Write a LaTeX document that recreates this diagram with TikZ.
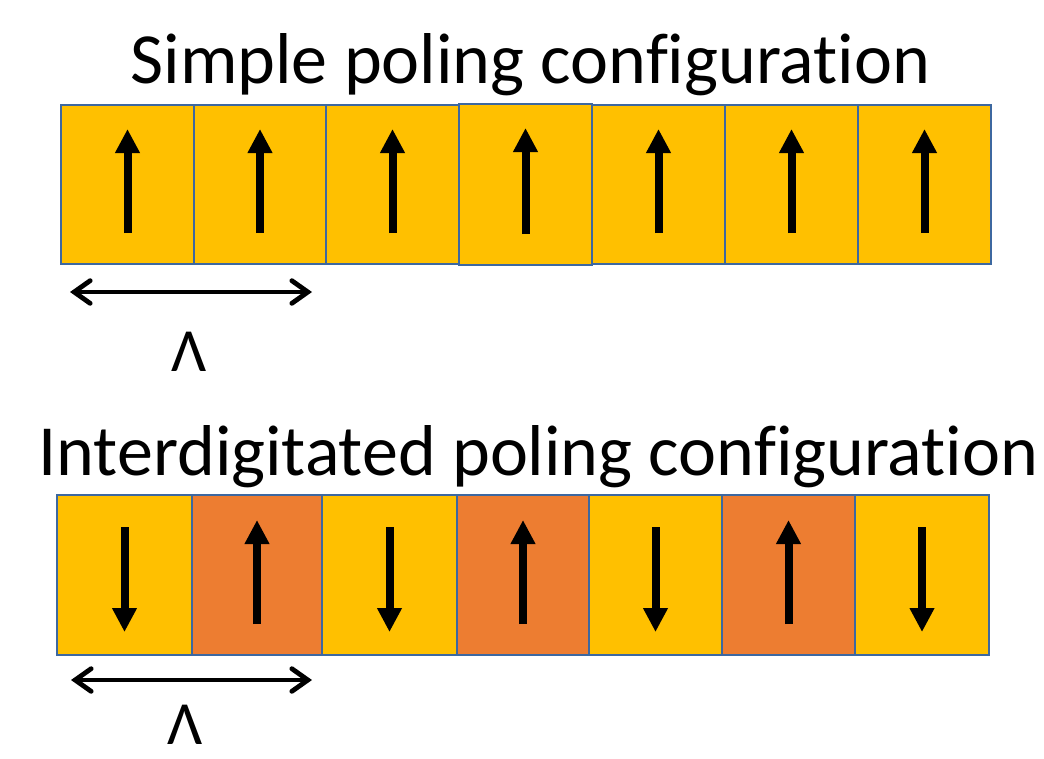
\documentclass[tikz,border=0pt]{standalone}
\usepackage{fontspec}
\setmainfont{Carlito}[Ligatures=NoCommon]
\usetikzlibrary{arrows.meta}
\definecolor{cellyellow}{HTML}{FFC000}
\definecolor{cellorange}{HTML}{ED7D31}
\definecolor{celledge}{HTML}{3D68A0}
\tikzset{
  cellbase/.style={rectangle, draw=celledge, line width=1.6pt, anchor=north west, inner sep=0pt, outer sep=0pt},
  cellY/.style={cellbase, fill=cellyellow},
  cellO/.style={cellbase, fill=cellorange},
  polarrow/.style={line width=6pt, -{Triangle[width=17.5pt,length=18pt]}},
  periodarrow/.style={line width=3.6pt, {Straight Barb[length=12pt,width=17pt,line cap=round]}-{Straight Barb[length=12pt,width=17pt,line cap=round]}, line cap=round},
  titletext/.style={anchor=base, inner sep=0pt, font=\fontsize{54}{56}\selectfont},
  lambdatext/.style={anchor=base, inner sep=0pt, font=\fontsize{46}{48}\selectfont}
}
\begin{document}
\begin{tikzpicture}[x=0.75pt, y=-0.75pt]
\useasboundingbox (0,0) rectangle (1044,758);
% titles
\node[titletext] (t1) at (530.5,83) {Simple poling configuration};
\node[titletext] (t2) at (538.5,475) {Interdigitated poling configuration};
% top row
\node[cellY, minimum width=99.75pt, minimum height=119.25pt] (a1) at (61,105) {};
\node[cellY, minimum width=99pt, minimum height=119.25pt] (a2) at (194,105) {};
\node[cellY, minimum width=99.75pt, minimum height=119.25pt] (a3) at (326,105) {};
\node[cellY, minimum width=99.75pt, minimum height=120.75pt] (a4) at (459,104) {};
\node[cellY, minimum width=99.75pt, minimum height=119.25pt] (a5) at (592,105) {};
\node[cellY, minimum width=99.75pt, minimum height=119.25pt] (a6) at (725,105) {};
\node[cellY, minimum width=99.75pt, minimum height=119.25pt] (a7) at (858,105) {};
\foreach \n in {a1,a2,a3,a4,a5,a6,a7}{
  \draw[polarrow] ([yshift=23.25pt]\n.south) -- ([yshift=-18pt]\n.north);
}
% bottom row
\node[cellY, minimum width=101.25pt, minimum height=120pt] (b1) at (57,495) {};
\node[cellO, minimum width=97.5pt, minimum height=120pt] (b2) at (192,495) {};
\node[cellY, minimum width=101.25pt, minimum height=120pt] (b3) at (322,495) {};
\node[cellO, minimum width=99pt, minimum height=120pt] (b4) at (457,495) {};
\node[cellY, minimum width=99.75pt, minimum height=120pt] (b5) at (589,495) {};
\node[cellO, minimum width=99.75pt, minimum height=120pt] (b6) at (722,495) {};
\node[cellY, minimum width=100.5pt, minimum height=120pt] (b7) at (855,495) {};
\foreach \n in {b2,b4,b6}{
  \draw[polarrow] ([yshift=23.25pt]\n.south) -- ([yshift=-18.75pt]\n.north);
}
\foreach \n in {b1,b3,b5,b7}{
  \draw[polarrow] ([yshift=-24pt]\n.north) -- ([yshift=17.25pt]\n.south);
}
% period markers
\coordinate (p1l) at (70,292);
\coordinate (p1r) at (312,292);
\draw[periodarrow] (p1l) -- (p1r);
\node[lambdatext] (l1) at (189,371) {Λ};
\coordinate (p2l) at (71,680);
\coordinate (p2r) at (312,680);
\draw[periodarrow] (p2l) -- (p2r);
\node[lambdatext] (l2) at (185,744) {Λ};
\end{tikzpicture}
\end{document}
